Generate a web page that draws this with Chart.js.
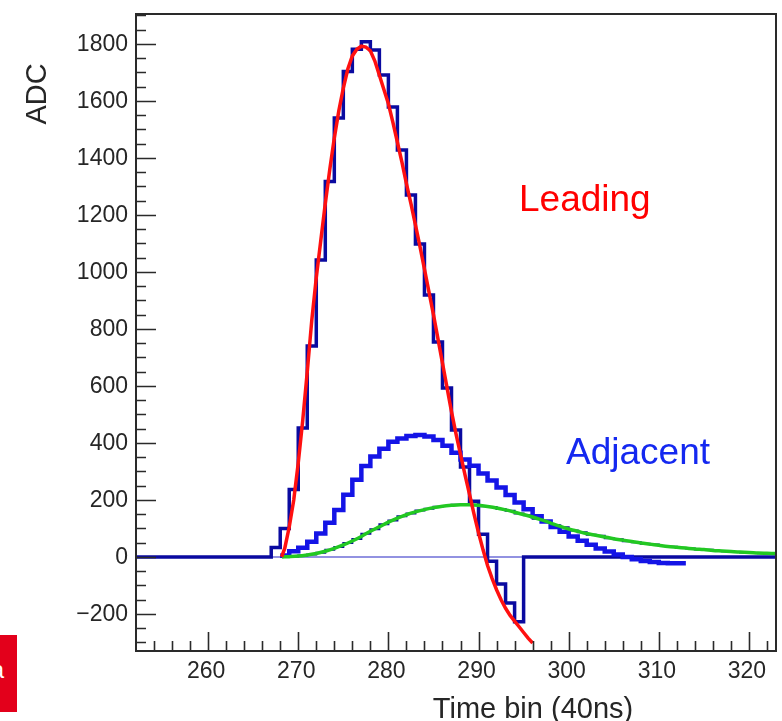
<!DOCTYPE html>
<html>
<head>
<meta charset="utf-8">
<title>ADC vs time bin</title>
<script src="https://cdn.jsdelivr.net/npm/chart.js@4.4.1/dist/chart.umd.min.js"></script>
<style>
  html, body { margin: 0; padding: 0; background: #fff; }
  #wrap { position: relative; width: 782px; height: 721px; overflow: hidden; }
  #tag { position: absolute; left: 0; top: 635px; width: 17px; height: 77px; background: #e3001b; overflow: hidden; }
  #tag span { position: absolute; right: 13px; top: 21px; line-height: 24px; color: #fff;
              font: 24px "Liberation Sans", Arial, sans-serif; }
</style>
</head>
<body>
<div id="wrap">
  <canvas id="chart" width="782" height="721"></canvas>
  <div id="tag"><span>a</span></div>
</div>
<script>
// axis ranges: time bin (40 ns per bin) and ADC counts
const xMin = 252, xMax = 323;
const yMin = -330, yMax = 1905;

const xMajorTicks = [260, 270, 280, 290, 300, 310, 320];
const xTickLabels = ["260", "270", "280", "290", "300", "310", "320"];
const yMajorTicks = [-200, 0, 200, 400, 600, 800, 1000, 1200, 1400, 1600, 1800];
const yTickLabels = ["\u2212200", "0", "200", "400", "600", "800", "1000", "1200", "1400", "1600", "1800"];

// leading strip, one value per time bin starting at bin 252
const leadFirstBin = 252;
const leadCounts = [
  0, 0, 0, 0, 0, 0, 0, 0, 0, 0, 0, 0, 0, 0, 0,
  33, 100, 237, 452, 740, 1042, 1317, 1540, 1703, 1781,
  1808, 1779, 1691, 1579, 1428, 1270, 1098, 919, 754, 593,
  445, 316, 195, 80, -15, -95, -162, -227,
  0, 0, 0, 0, 0, 0, 0, 0, 0, 0, 0, 0, 0, 0, 0, 0, 0, 0, 0, 0, 0, 0, 0, 0, 0, 0, 0, 0
];

// pulse fit on the leading strip
const leadFitT = [
  268.15, 268.5, 269, 269.5, 270, 270.5, 271, 271.5, 272, 272.5,
  273, 273.5, 274, 274.5, 275, 275.5, 276, 276.5, 277, 277.5,
  278, 278.5, 279, 279.5, 280, 280.5, 281, 281.5, 282, 282.5,
  283, 283.5, 284, 284.5, 285, 285.5, 286, 286.5, 287, 287.5,
  288, 288.5, 289, 289.5, 290, 290.5, 291, 291.5, 292, 292.5,
  293, 293.5, 294, 294.5, 295, 295.5, 296
];
const leadFitAdc = [
  0, 30, 105, 200, 330, 480, 650, 830, 980, 1110,
  1240, 1360, 1470, 1565, 1645, 1712, 1758, 1781, 1792, 1789,
  1776, 1740, 1690, 1640, 1590, 1525, 1455, 1385, 1310, 1240,
  1165, 1090, 1010, 930, 850, 765, 680, 595, 510, 432,
  360, 288, 220, 150, 85, 25, -30, -75, -115, -150,
  -180, -205, -225, -245, -265, -285, -302
];

// adjacent strip (bipolar), one value per bin starting at bin 268
const adjFirstBin = 268;
const adjCounts = [
  5, 20, 32, 53, 82, 120, 165, 218, 271, 319,
  352, 380, 404, 416, 424, 428, 423, 410, 390, 366,
  342, 320, 293, 268, 244, 217, 191, 167, 143, 124,
  105, 88, 72, 57, 43, 30, 19, 9, 0, -8,
  -14, -18, -21, -22, -22
];

// second adjacent strip and its fit
const adj2FirstBin = 268;
const adj2Counts = [
  1, 2, 5, 9, 15, 25, 35, 49, 63, 81,
  97, 115, 128, 143, 152, 163, 169, 176, 179, 183,
  182, 183, 178, 175, 168, 162, 152, 146, 134, 125,
  112, 104, 93, 87, 78, 74, 66, 62, 55, 52,
  46, 44, 38, 36, 31, 30, 26, 25, 21, 20,
  17, 16, 14, 13, 11
];
const adj2FitT = [
  268.2, 269, 270, 271, 272, 273, 274, 275, 276, 277,
  278, 279, 280, 281, 282, 283, 284, 285, 286, 287,
  288, 289, 290, 291, 292, 293, 294, 295, 296, 297,
  298, 299, 300, 301, 302, 303, 304, 305, 306, 307,
  308, 309, 310, 311, 312, 313, 314, 315, 316, 317,
  318, 319, 320, 321, 322, 323
];
const adj2FitAdc = [
  0, 1, 3, 7, 12, 20, 30, 42, 56, 72,
  90, 106, 122, 136, 148, 158, 166, 173, 178, 181,
  183, 183, 181, 177, 172, 165, 157, 149, 140, 130,
  119, 108, 98, 90, 82, 76, 70, 64, 59, 54,
  49, 45, 41, 37, 34, 31, 28, 26, 23, 21,
  19, 17, 16, 14, 13, 12
];

const FONT = '"Liberation Sans", Arial, Helvetica, sans-serif';

// histogram as left bin edges plus the closing edge, drawn with stepped: "before"
function histPoints(first, counts) {
  const pts = counts.map((c, i) => ({ x: first + i, y: c }));
  pts.push({ x: first + counts.length, y: counts[counts.length - 1] });
  return pts;
}

function zip(xs, ys) {
  return xs.map((x, i) => ({ x, y: ys[i] }));
}

// ROOT-style frame: inward ticks, labels and titles
const frame = {
  id: "frame",
  afterDatasetsDraw(chart) {
    const { ctx, chartArea: a, scales } = chart;
    const sx = scales.x, sy = scales.y;
    ctx.save();

    ctx.strokeStyle = "#2a2a2a";
    ctx.lineWidth = 2;
    ctx.strokeRect(a.left, a.top, a.right - a.left, a.bottom - a.top);

    ctx.lineWidth = 1.6;
    ctx.beginPath();
    for (let v = 254; v < xMax; v += 2) {
      const px = Math.round(sx.getPixelForValue(v)) + 0.5;
      const len = xMajorTicks.includes(v) ? 19 : 10;
      ctx.moveTo(px, a.bottom);
      ctx.lineTo(px, a.bottom - len);
    }
    for (let v = -300; v < yMax; v += 50) {
      const py = Math.round(sy.getPixelForValue(v)) + 0.5;
      const len = yMajorTicks.includes(v) ? 20 : 10;
      ctx.moveTo(a.left, py);
      ctx.lineTo(a.left + len, py);
    }
    ctx.stroke();

    ctx.fillStyle = "#262626";
    ctx.font = "23px " + FONT;
    ctx.textAlign = "right";
    ctx.textBaseline = "middle";
    yMajorTicks.forEach((v, i) => {
      ctx.fillText(yTickLabels[i], a.left - 8, sy.getPixelForValue(v) + 1);
    });
    ctx.textAlign = "center";
    ctx.textBaseline = "top";
    xMajorTicks.forEach((v, i) => {
      ctx.fillText(xTickLabels[i], sx.getPixelForValue(v) - 2, a.bottom + 9);
    });

    ctx.font = "29px " + FONT;
    ctx.textBaseline = "alphabetic";
    ctx.fillText("Time bin (40ns)", 533, 718);
    ctx.save();
    ctx.translate(46, 94);
    ctx.rotate(-Math.PI / 2);
    ctx.fillText("ADC", 0, 0);
    ctx.restore();

    ctx.font = "37px " + FONT;
    ctx.textAlign = "left";
    ctx.fillStyle = "#ff0000";
    ctx.fillText("Leading", 519, 211);
    ctx.fillStyle = "#1428f0";
    ctx.fillText("Adjacent", 566, 464);

    ctx.restore();
  }
};

new Chart(document.getElementById("chart"), {
  type: "line",
  data: {
    datasets: [
      {
        data: zip(leadFitT, leadFitAdc),
        borderColor: "#ff1010",
        borderWidth: 3.5,
        pointRadius: 0,
        tension: 0,
        order: 0
      },
      {
        data: zip(adj2FitT, adj2FitAdc),
        borderColor: "#22c822",
        borderWidth: 3.5,
        pointRadius: 0,
        cubicInterpolationMode: "monotone",
        order: 1
      },
      {
        data: histPoints(adjFirstBin, adjCounts),
        borderColor: "#1414e6",
        borderWidth: 4.5,
        pointRadius: 0,
        stepped: "before",
        order: 2
      },
      {
        data: histPoints(adj2FirstBin, adj2Counts),
        borderColor: "#0a0a96",
        borderWidth: 2,
        pointRadius: 0,
        stepped: "before",
        order: 3
      },
      {
        data: histPoints(leadFirstBin, leadCounts),
        borderColor: "#0a0aa0",
        borderWidth: 3.5,
        pointRadius: 0,
        stepped: "before",
        order: 4
      },
      {
        // zero line
        data: [{ x: xMin, y: 0 }, { x: xMax, y: 0 }],
        borderColor: "rgba(110,110,215,0.75)",
        borderWidth: 2,
        pointRadius: 0,
        order: 5
      }
    ]
  },
  options: {
    responsive: false,
    animation: false,
    layout: { padding: { left: 136, top: 14, right: 6, bottom: 70 } },
    plugins: { legend: { display: false }, tooltip: { enabled: false } },
    scales: {
      x: { type: "linear", display: false, min: xMin, max: xMax },
      y: { type: "linear", display: false, min: yMin, max: yMax }
    }
  },
  plugins: [frame]
});
</script>
</body>
</html>
